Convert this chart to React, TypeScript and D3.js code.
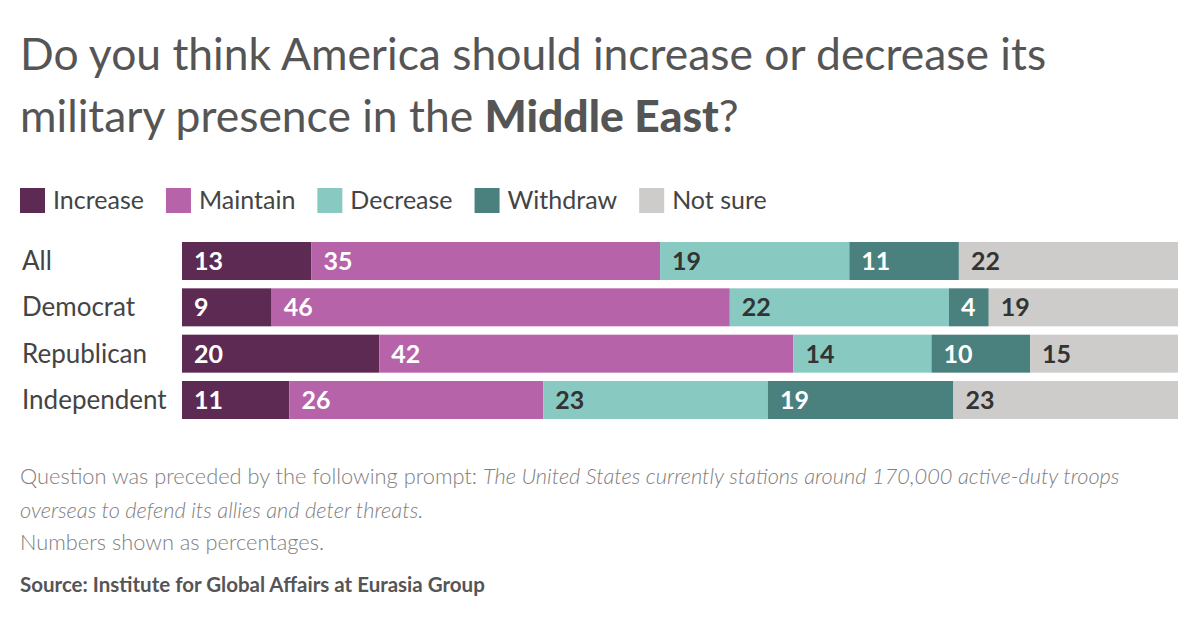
import { useEffect, useRef } from "react";
import * as d3 from "d3";

const GROUPS = ["All", "Democrat", "Republican", "Independent"];
const RESPONSES = ["Increase", "Maintain", "Decrease", "Withdraw", "Not sure"];
const COLORS = ["#5d2a53", "#b663a9", "#88c9c2", "#4a807d", "#cdcccb"];
const LABEL_FILL = ["#fff", "#fff", "#333", "#fff", "#333"];

const ALL = [13, 35, 19, 11, 22];
const DEMOCRAT = [9, 46, 22, 4, 19];
const REPUBLICAN = [20, 42, 14, 10, 15];
const INDEPENDENT = [11, 26, 23, 19, 23];
const VALUES = [ALL, DEMOCRAT, REPUBLICAN, INDEPENDENT];

const FONT = "Lato, 'Open Sans', sans-serif";

export default function App() {
  const ref = useRef<SVGSVGElement>(null);

  useEffect(() => {
    const W = 1199, H = 621;
    const svg = d3.select(ref.current).attr("width", W).attr("height", H);
    svg.selectAll("*").remove();
    svg.append("rect").attr("width", W).attr("height", H).attr("fill", "#fff");

    // title
    const title = svg.append("g").attr("font-family", FONT).attr("fill", "#555").attr("font-size", 44.4);
    title.append("text").attr("x", 20).attr("y", 70).text("Do you think America should increase or decrease its");
    const t2 = title.append("text").attr("x", 20).attr("y", 132);
    t2.append("tspan").text("military presence in the ");
    t2.append("tspan").attr("font-weight", 900).text("Middle East");
    t2.append("tspan").text("?");

    // legend
    const leg = svg.append("g").attr("font-family", FONT).attr("font-size", 25).attr("fill", "#444");
    let lx = 20;
    RESPONSES.forEach((r, i) => {
      leg.append("rect").attr("x", lx).attr("y", 188).attr("width", 25).attr("height", 25).attr("fill", COLORS[i]);
      const t = leg.append("text").attr("x", lx + 33).attr("y", 209).text(r);
      const w = (t.node() as SVGTextElement).getComputedTextLength();
      lx += 33 + w + 22;
    });

    // bars
    const x0 = 182, x1 = 1178;
    const y = d3.scaleBand().domain(GROUPS).range([242, 419]).paddingInner(0.18).paddingOuter(0);
    const g = svg.append("g");

    VALUES.forEach((vals, gi) => {
      const total = d3.sum(vals);
      const x = d3.scaleLinear().domain([0, total]).range([x0, x1]);
      const row = g.append("g").attr("transform", `translate(0,${y(GROUPS[gi])})`);
      let acc = 0;
      vals.forEach((v, i) => {
        const a = x(acc), b = x(acc + v);
        row.append("rect").attr("x", a).attr("y", 0).attr("width", b - a).attr("height", y.bandwidth()).attr("fill", COLORS[i]);
        row.append("text").attr("x", a + 12).attr("y", y.bandwidth() / 2 + 9)
          .attr("font-family", FONT).attr("font-weight", 700).attr("font-size", 25)
          .attr("fill", LABEL_FILL[i]).text(v);
        acc += v;
      });
      svg.append("text").attr("x", 22).attr("y", (y(GROUPS[gi]) as number) + y.bandwidth() / 2 + 9)
        .attr("font-family", FONT).attr("font-size", 26).attr("fill", "#444").text(GROUPS[gi]);
    });

    // notes
    const note = svg.append("g").attr("font-family", FONT).attr("font-size", 21.8).attr("fill", "#808080").attr("font-weight", 300);
    const n1 = note.append("text").attr("x", 20).attr("y", 484);
    n1.append("tspan").text("Question was preceded by the following prompt: ");
    n1.append("tspan").attr("font-style", "italic").text("The United States currently stations around 170,000 active-duty troops");
    note.append("text").attr("x", 20).attr("y", 518).attr("font-style", "italic").text("overseas to defend its allies and deter threats.");
    note.append("text").attr("x", 20).attr("y", 550).text("Numbers shown as percentages.");

    svg.append("text").attr("x", 20).attr("y", 592).attr("font-family", FONT).attr("font-size", 20.5)
      .attr("font-weight", 700).attr("fill", "#555").text("Source: Institute for Global Affairs at Eurasia Group");
  }, []);

  return <svg ref={ref} style={{ display: "block", margin: -8 }} />;
}
